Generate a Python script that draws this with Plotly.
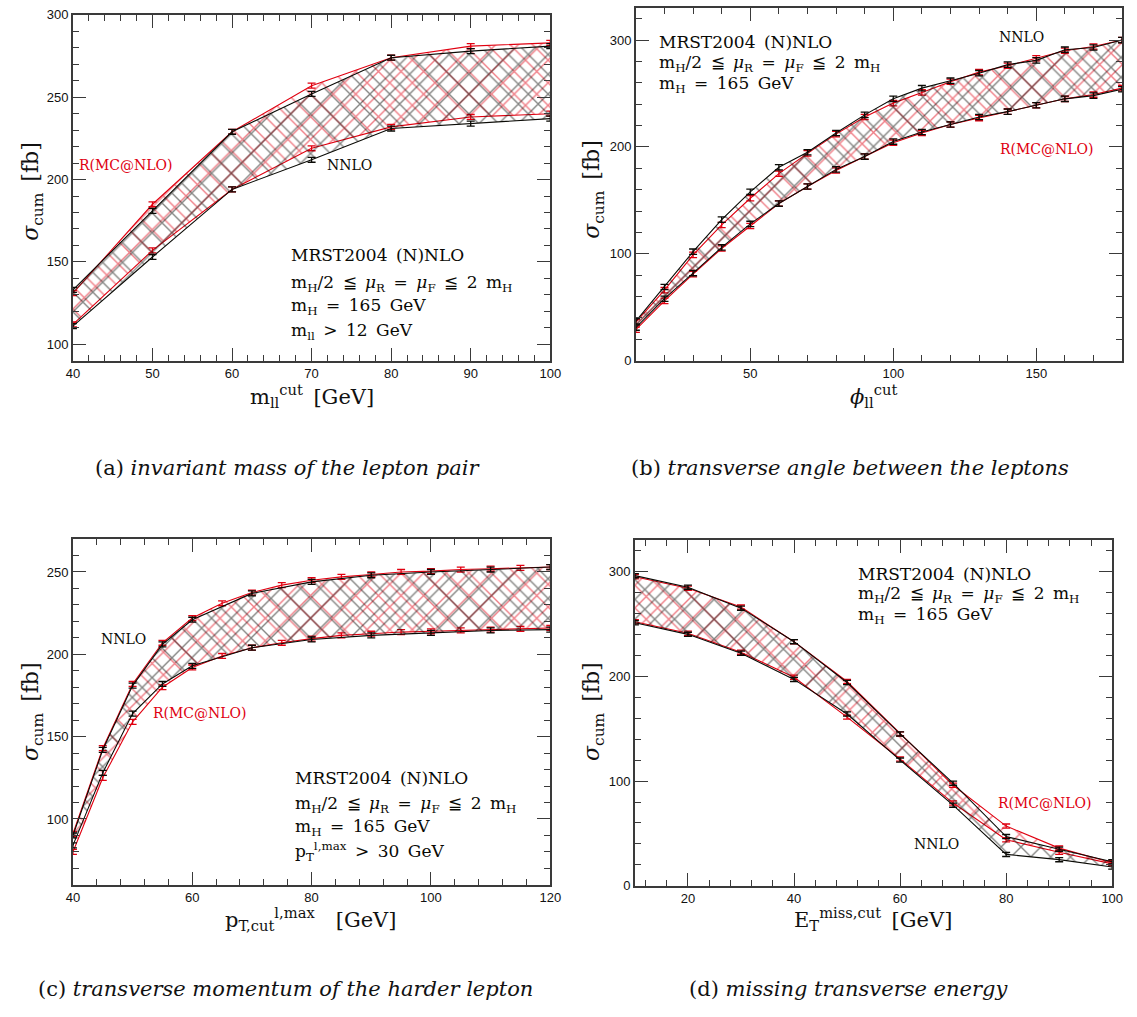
import plotly.graph_objects as go

# ---------------- data ----------------
a_x = [40, 50, 60, 70, 80, 90, 100]
a_nnlo_hi = [133, 181, 229, 252, 274, 278, 281]
a_nnlo_lo = [111, 153, 194, 212, 231, 234, 237]
a_mc_hi = [131, 185, 229, 257, 274, 281, 283]
a_mc_lo = [112, 157, 194, 219, 232, 238, 240]

b_x = [10, 20, 30, 40, 50, 60, 70, 80, 90, 100, 110, 120, 130, 140, 150, 160, 170, 180]
b_nnlo_hi = [37, 69, 102, 132, 158, 181, 195, 213, 230, 245, 255, 262, 269, 277, 281, 291, 293, 300]
b_nnlo_lo = [31, 58, 82, 106, 128, 147, 163, 179, 191, 205, 214, 221, 228, 233, 239, 245, 248, 254]
b_mc_hi = [36, 66, 99, 127, 152, 175, 194, 212, 228, 241, 251, 261, 270, 276, 283, 290, 294, 300]
b_mc_lo = [29, 56, 81, 105, 126, 147, 163, 178, 191, 204, 213, 221, 227, 233, 239, 245, 249, 255]

c_x_nnlo = [40, 45, 50, 55, 60, 70, 80, 90, 100, 110, 120]
c_nnlo_hi = [90, 142, 181, 206, 221, 237, 244, 248, 250, 251.5, 253]
c_nnlo_lo = [84, 128, 164, 182, 193, 204, 209, 211.5, 213, 214.5, 215]
c_x_mc = [40, 45, 50, 55, 60, 65, 70, 75, 80, 85, 90, 95, 100, 105, 110, 115, 120]
c_mc_hi = [91, 143, 182, 207, 222, 231, 237.5, 242, 245, 247, 248.5, 250, 250.5, 251.5, 252, 252.5, 253]
c_mc_lo = [80, 125, 159, 180, 192, 199, 204, 207, 209.5, 211.5, 212.5, 213.5, 214, 214.5, 215, 215.5, 216]

d_x = [10, 20, 30, 40, 50, 60, 70, 80, 90, 100]
d_nnlo_hi = [296, 285, 265, 233, 194, 145, 98, 47, 35, 23]
d_nnlo_lo = [251, 240, 222, 197, 164, 120, 77, 30, 25, 18]
d_mc_hi = [295, 284, 266, 233, 195, 145, 96, 57, 36, 22]
d_mc_lo = [252, 241, 223, 199, 161, 121, 79, 44, 32, 21]

err_a, err_b, err_c, err_d = 1.5, 2.5, 1.5, 2.0

# ---------------- style ----------------
W, H = 1137, 1017
BLACK = "#0a0a05"
RED = "#e00010"
SERIF = "DejaVu Serif"
SANS = "Liberation Sans"
ES = "\u2002"  # en space

fig = go.Figure()


def band(xs, hi, lo, color, pshape, psize, solidity, xa, ya, err):
    fig.add_trace(go.Scatter(
        x=list(xs) + list(xs)[::-1], y=list(hi) + list(lo)[::-1],
        fill="toself", mode="lines", line=dict(width=0),
        fillcolor="rgba(0,0,0,0)",
        fillpattern=dict(shape=pshape, fgcolor=color, bgcolor="rgba(0,0,0,0)",
                         size=psize, solidity=solidity, fillmode="overlay"),
        xaxis=xa, yaxis=ya, hoverinfo="skip", showlegend=False))
    for ys in (hi, lo):
        fig.add_trace(go.Scatter(
            x=xs, y=ys, mode="lines", line=dict(color=color, width=1.1),
            error_y=dict(type="constant", value=err, color=color, thickness=1.3, width=4),
            xaxis=xa, yaxis=ya, showlegend=False))


panels = [
    ("x", "y", (a_x, a_mc_hi, a_mc_lo, a_x, a_nnlo_hi, a_nnlo_lo), err_a),
    ("x2", "y2", (b_x, b_mc_hi, b_mc_lo, b_x, b_nnlo_hi, b_nnlo_lo), err_b),
    ("x3", "y3", (c_x_mc, c_mc_hi, c_mc_lo, c_x_nnlo, c_nnlo_hi, c_nnlo_lo), err_c),
    ("x4", "y4", (d_x, d_mc_hi, d_mc_lo, d_x, d_nnlo_hi, d_nnlo_lo), err_d),
]
for xa, ya, (mx, mhi, mlo, nx, nhi, nlo), err in panels:
    band(mx, mhi, mlo, RED, "x", 16, 0.17, xa, ya, err)
    band(nx, nhi, nlo, BLACK, "x", 14, 0.19, xa, ya, err)


def px_dom_x(a, b):
    return [a / W, b / W]


def px_dom_y(top, bottom):
    return [1 - bottom / H, 1 - top / H]


def axis(dom, rng, dtick, minor, anchor, tickvals=None):
    d = dict(domain=dom, range=rng, anchor=anchor, showgrid=False, zeroline=False,
             showline=True, linecolor="#3a3a3a", linewidth=1.6, mirror="allticks",
             ticks="inside", ticklen=13, tickwidth=1.4, tickcolor="#3a3a3a",
             tickfont=dict(family=SANS, size=13, color="#111"),
             minor=dict(dtick=minor, ticks="inside", ticklen=6, tickwidth=1.2,
                        tickcolor="#3a3a3a", showgrid=False))
    if tickvals is not None:
        d["tickmode"] = "array"
        d["tickvals"] = tickvals
    else:
        d["dtick"] = dtick
    return d


layout = dict(
    width=W, height=H, margin=dict(l=0, r=0, t=0, b=0),
    paper_bgcolor="white", plot_bgcolor="white", showlegend=False,
    xaxis=axis(px_dom_x(67, 552), [40, 100], 10, 2, "y"),
    yaxis=axis(px_dom_y(8, 359), [90, 300], None, 10, "x", [100, 150, 200, 250, 300]),
    xaxis2=axis(px_dom_x(639, 1133), [10, 180], None, 10, "y2", [50, 100, 150]),
    yaxis2=axis(px_dom_y(1, 359), [0, 330], None, 20, "x2", [0, 100, 200, 300]),
    xaxis3=axis(px_dom_x(67, 552), [40, 120], 20, 4, "y3"),
    yaxis3=axis(px_dom_y(540, 891), [60, 270], None, 10, "x3", [100, 150, 200, 250]),
    xaxis4=axis(px_dom_x(638, 1123), [10, 100], None, 4, "y4", [20, 40, 60, 80, 100]),
    yaxis4=axis(px_dom_y(541, 892), [0, 330], None, 20, "x4", [0, 100, 200, 300]),
)
fig.update_layout(**layout)

ann = []


def txt(x, y, s, xa, ya, color=BLACK, size=17, xanchor="left"):
    ann.append(dict(x=x, y=y, xref=xa, yref=ya, text=s, showarrow=False,
                    xanchor=xanchor, yanchor="middle",
                    font=dict(family=SERIF, size=size, color=color)))


def sp(s):
    return ES + s + ES


scale_txt = ("m<sub>H</sub>/2" + sp("≦") + "<i>μ</i><sub>R</sub>" + sp("=") +
             "<i>μ</i><sub>F</sub>" + sp("≦") + "2" + ES + "m<sub>H</sub>")
mh_txt = "m<sub>H</sub>" + sp("=") + "165" + ES + "GeV"
mrst_txt = "MRST2004" + ES + "(N)NLO"

# panel a
txt(46.7, 209, "R(MC@NLO)", "x", "y", RED, 14, "center")
txt(74.8, 209, "NNLO", "x", "y", BLACK, 14, "center")
for yy, s in zip([154, 137, 123, 108], [mrst_txt, scale_txt, mh_txt,
                                       "m<sub>ll</sub>" + sp(">") + "12" + ES + "GeV"]):
    txt(67.2, yy, s, "x", "y")
# panel b
txt(145, 303, "NNLO", "x2", "y2", BLACK, 14, "center")
txt(153.6, 198.5, "R(MC@NLO)", "x2", "y2", RED, 14, "center")
for yy, s in zip([298, 278, 258], [mrst_txt, scale_txt, mh_txt]):
    txt(17.5, yy, s, "x2", "y2")
# panel c
txt(48.4, 209, "NNLO", "x3", "y3", BLACK, 14, "center")
txt(61.3, 164.5, "R(MC@NLO)", "x3", "y3", RED, 14, "center")
for yy, s in zip([125, 109, 95, 80], [mrst_txt, scale_txt, mh_txt,
                                       "p<sub>T</sub><sup>l,max</sup>" + sp(">") + "30" + ES + "GeV"]):
    txt(76.8, yy, s, "x3", "y3")
# panel d
txt(87.3, 79, "R(MC@NLO)", "x4", "y4", RED, 14, "center")
txt(66.8, 39.5, "NNLO", "x4", "y4", BLACK, 14, "center")
for yy, s in zip([298, 278, 258], [mrst_txt, scale_txt, mh_txt]):
    txt(51.7, yy, s, "x4", "y4")


def ptxt(px, py, s, size=21, angle=0):
    ann.append(dict(x=px / W, y=1 - py / H, xref="paper", yref="paper", text=s,
                    showarrow=False, xanchor="center", yanchor="middle", textangle=angle,
                    font=dict(family=SERIF, size=size, color="#111")))


ytitle = "<i>σ</i><sub>cum</sub>" + ES + "[fb]"
ptxt(26, 187, ytitle, size=22, angle=-90)
ptxt(596, 185, ytitle, size=22, angle=-90)
ptxt(26, 715, ytitle, size=22, angle=-90)
ptxt(596, 715, ytitle, size=22, angle=-90)
ptxt(310, 395, "m<sub>ll</sub><sup>cut</sup>" + ES + "[GeV]")
ptxt(880, 395, "<i>ϕ</i><sub>ll</sub><sup>cut</sup>")
ptxt(308, 926, "p<sub>T,cut</sub><sup>l,max</sup>" + ES + ES + "[GeV]")
ptxt(880, 926, "E<sub>T</sub><sup>miss,cut</sup>" + ES + "[GeV]")

ptxt(286, 468, "(a) <i>invariant mass of the lepton pair</i>", size=21)
ptxt(857, 468, "(b) <i>transverse angle between the leptons</i>", size=21)
ptxt(283, 997, "(c) <i>transverse momentum of the harder lepton</i>", size=21)
ptxt(855, 997, "(d) <i>missing transverse energy</i>", size=21)

fig.update_layout(annotations=ann)
fig.write_html("out.html")
